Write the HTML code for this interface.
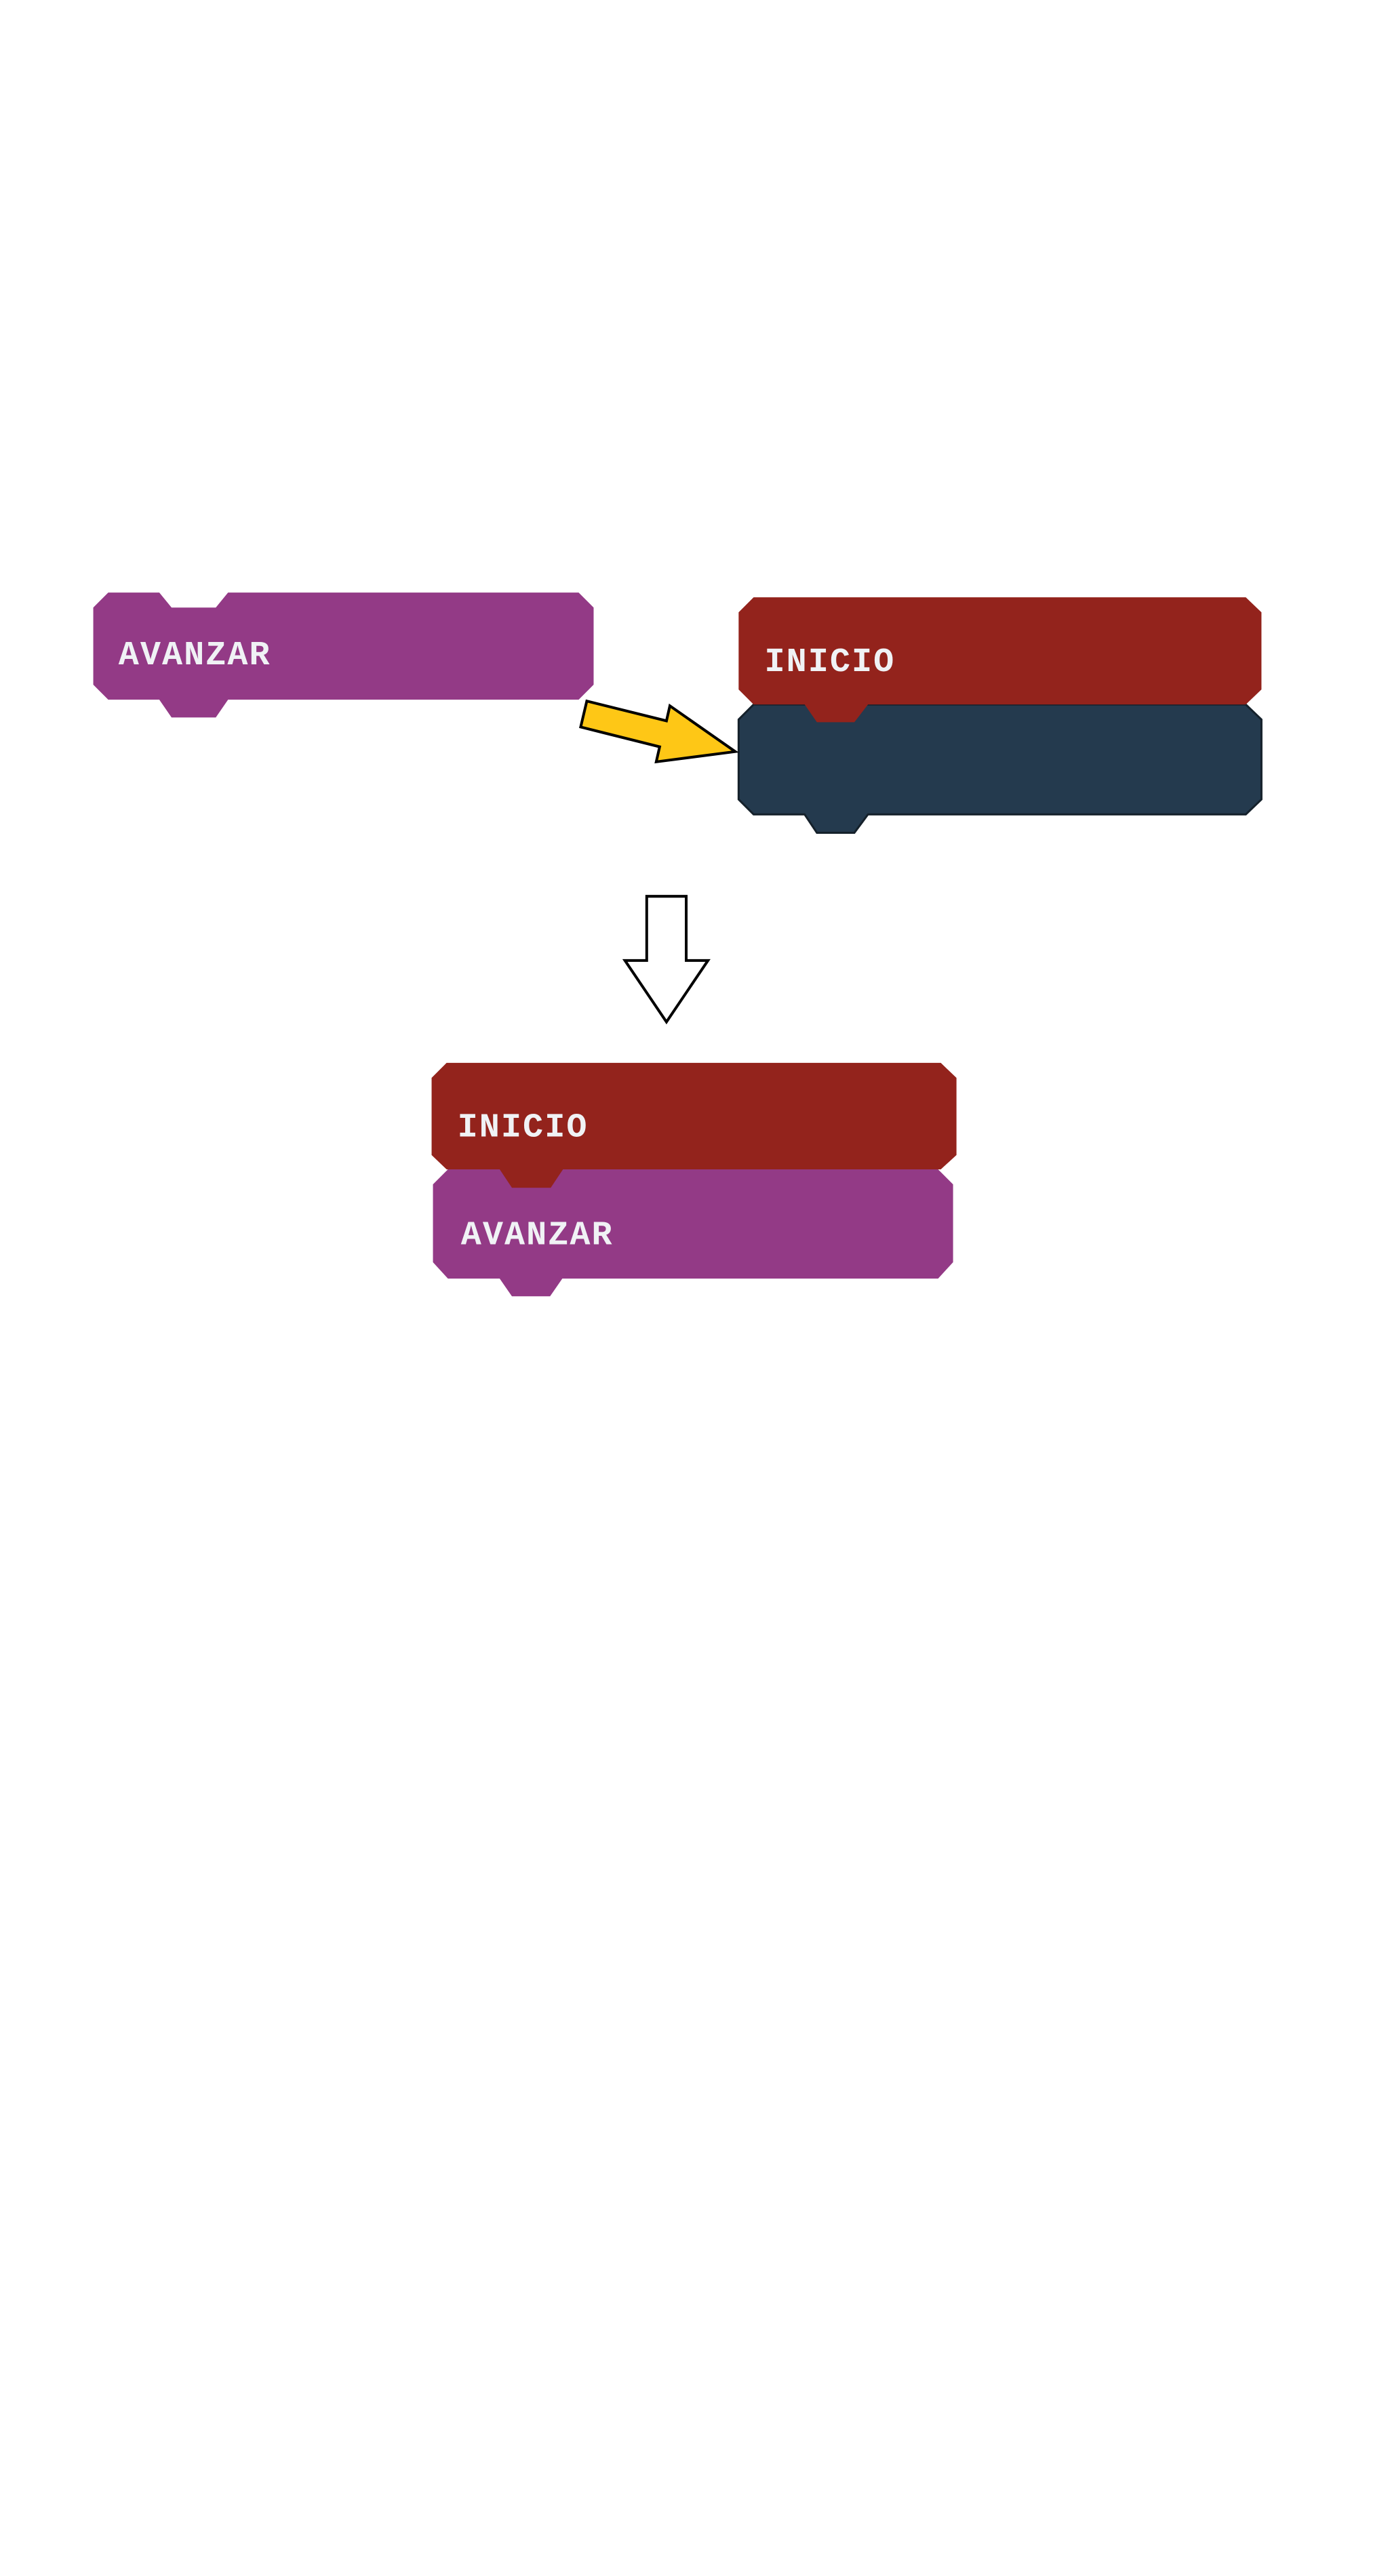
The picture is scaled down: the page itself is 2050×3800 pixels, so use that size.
<!DOCTYPE html>
<html><head><meta charset="utf-8"><style>
body{margin:0;background:#fff}
svg{display:block}
text{font-family:"Liberation Mono",monospace;font-weight:bold;fill:#f0f2f5;font-size:50px;letter-spacing:2px}
</style></head><body>
<svg width="2050" height="3800" viewBox="0 0 2050 3800" xmlns="http://www.w3.org/2000/svg">
<g transform="scale(1.004,1.007)">
<g transform="translate(137,868)">
<path d="M22 0 H97 L115 22 H180 L198 0 H713 L735 22 V135 L713 157 H198 L180 183 H115 L97 157 H22 L0 135 V22 Z" fill="#933a86"/>
</g>
<text x="174" y="973">AVANZAR</text>

<g transform="translate(1085,1032)">
<path d="M22 0 H745 L768 22 V139 L745 161 H190 L170 188 H115 L97 161 H22 L0 139 V22 Z" fill="#243a4e" stroke="#15212b" stroke-width="3"/>
</g>
<g transform="translate(1085,875)">
<path d="M22 0 H745 L768 22 V135 L745 157 H190 L170 183 H115 L97 157 H22 L0 135 V22 Z" fill="#93231c"/>
</g>
<text x="1123" y="983">INICIO</text>

<polygon points="862,1027 979,1056 984,1034 1080,1101 964,1116 969,1094 853,1065" fill="#fec716" stroke="#000" stroke-width="4" stroke-linejoin="miter"/>

<polygon points="950,1313 1008,1313 1008,1407 1040,1407 979,1497 918,1407 950,1407" fill="#fff" stroke="#000" stroke-width="4"/>

<g transform="translate(636,1713)">
<path d="M22 0 H742 L764 22 V136 L742 160 H190 L172 186 H116 L98 160 H22 L0 136 V22 Z" fill="#933a86"/>
</g>
<text x="677" y="1823">AVANZAR</text>
<g transform="translate(634,1557)">
<path d="M22 0 H748 L771 22 V135 L748 156 H193 L175 183 H118 L100 156 H22 L0 135 V22 Z" fill="#93231c"/>
</g>
<text x="672" y="1665">INICIO</text>
</g>
</svg>
</body></html>
